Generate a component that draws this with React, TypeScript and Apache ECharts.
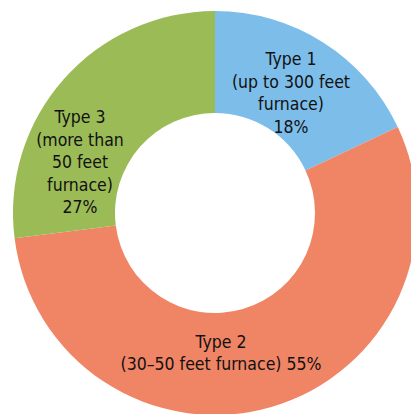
import React, { useEffect, useRef } from "react";
import * as echarts from "echarts";

// Furnace types and their shares (%)
const categories = ["Type 1", "Type 2", "Type 3"];
const descriptions = [
  "(up to 300 feet\nfurnace)",
  "(30–50 feet furnace)",
  "(more than\n50 feet\nfurnace)",
];
const shares = [18, 55, 27];
const colors = ["#7DBDE9", "#F08566", "#9BBB57"];

// Label anchor points (px) for each slice
const labelPos = [
  [291, 93],
  [221, 353],
  [80, 162],
];

export default function App() {
  const ref = useRef<HTMLDivElement>(null);

  useEffect(() => {
    if (!ref.current) return;
    const chart = echarts.init(ref.current, null, { renderer: "svg" });
    chart.setOption({
      animation: false,
      backgroundColor: "#ffffff",
      series: [
        {
          type: "pie",
          center: [215, 213],
          radius: [100, 202],
          startAngle: 90,
          clockwise: true,
          avoidLabelOverlap: false,
          silent: true,
          itemStyle: { borderWidth: 0 },
          label: {
            show: true,
            position: "inside",
            color: "#111111",
            fontFamily: "'Liberation Sans Narrow', 'DejaVu Sans Condensed', sans-serif",
            fontSize: 17.5,
            lineHeight: 22.5,
            align: "center",
            formatter: (p: any) => {
              const i = p.dataIndex;
              if (i === 1) {
                return `${categories[i]}\n${descriptions[i]} ${shares[i]}%`;
              }
              return `${categories[i]}\n${descriptions[i]}\n${shares[i]}%`;
            },
          },
          labelLine: { show: false },
          labelLayout: (params: any) => ({
            x: labelPos[params.dataIndex][0],
            y: labelPos[params.dataIndex][1],
            align: "center",
            verticalAlign: "middle",
          }),
          data: categories.map((name, i) => ({
            name,
            value: shares[i],
            itemStyle: { color: colors[i] },
          })),
        },
      ],
    });
    return () => chart.dispose();
  }, []);

  return (
    <div
      ref={ref}
      style={{ width: 411, height: 414, position: "absolute", left: 0, top: 0 }}
    />
  );
}
